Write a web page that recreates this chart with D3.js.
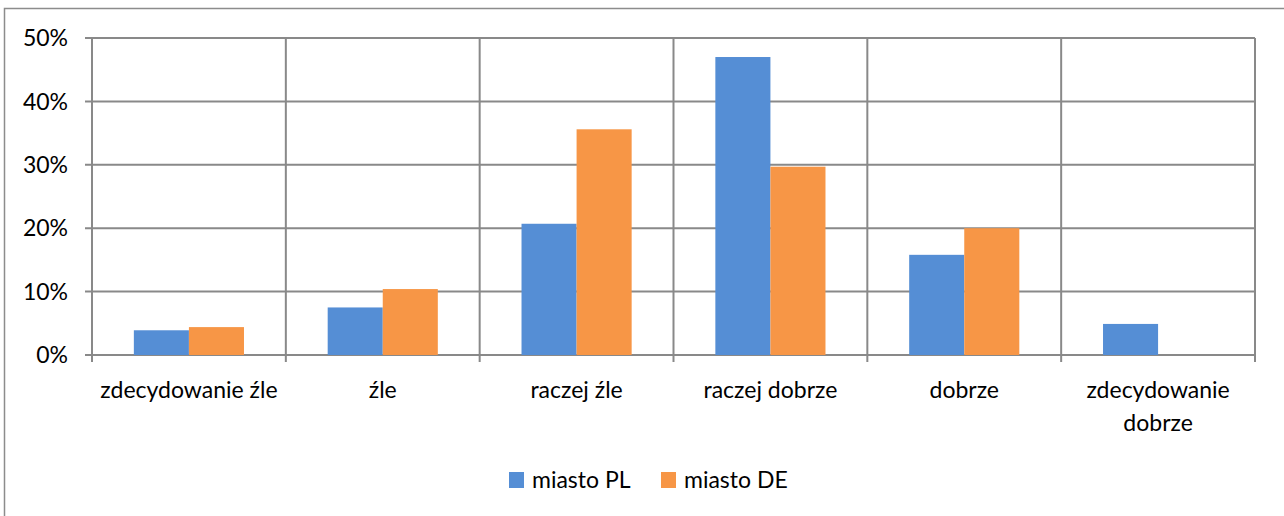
<!DOCTYPE html>
<html>
<head>
<meta charset="utf-8">
<script src="https://cdn.jsdelivr.net/npm/d3@7"></script>
<style>
  body { margin: 0; background: #fff; }
  text { font-family: Lato, "Open Sans", sans-serif; fill: #000; }
</style>
</head>
<body>
<div id="chart"></div>
<script>
var categories = ['zdecydowanie źle', 'źle', 'raczej źle', 'raczej dobrze', 'dobrze', 'zdecydowanie dobrze']
var seriesNames = ['miasto PL', 'miasto DE']
var miastoPL = [3.9, 7.5, 20.7, 47.0, 15.8, 4.9]
var miastoDE = [4.4, 10.4, 35.6, 29.7, 20.0, 0]
var yTicks = [0, 10, 20, 30, 40, 50]
var colors = ['#558ED5', '#F79646']

var W = 1284, H = 516
var margin = {top: 38, right: 29, bottom: 161, left: 92},
    width = W - margin.left - margin.right,
    height = H - margin.top - margin.bottom
var fontSize = '23px'

var svg = d3.select('#chart').append('svg')
    .attr('width', W)
    .attr('height', H)

// outer chart border (cut by the picture on right and bottom)
svg.append('rect')
    .attr('x', 4.5).attr('y', 8.5)
    .attr('width', 1400).attr('height', 600)
    .attr('fill', 'none')
    .attr('stroke', '#8c8c8c')
    .attr('stroke-width', 1.5)

var g = svg.append('g')
    .attr('transform', 'translate(' + margin.left + ',' + margin.top + ')')

var x0 = d3.scaleBand()
    .domain(categories)
    .range([0, width])
    .padding(0)

var x1 = d3.scaleBand()
    .domain(seriesNames)
    .range([0, x0.bandwidth()])
    .paddingInner(0)
    .paddingOuter(0.76)

var y = d3.scaleLinear()
    .domain([0, 50])
    .range([height, 0])

var gridColor = '#898989'

// horizontal gridlines with tick stubs
g.append('g')
    .selectAll('line')
    .data(yTicks)
    .enter().append('line')
      .attr('x1', -7).attr('x2', width)
      .attr('y1', function(d) { return y(d) }).attr('y2', function(d) { return y(d) })
      .attr('stroke', gridColor).attr('stroke-width', 2)

// vertical gridlines at category boundaries
var bounds = categories.map(function(c) { return x0(c) }).concat([width])
g.append('g')
    .selectAll('line')
    .data(bounds)
    .enter().append('line')
      .attr('x1', function(d) { return d }).attr('x2', function(d) { return d })
      .attr('y1', 0).attr('y2', height + 7)
      .attr('stroke', gridColor).attr('stroke-width', 2)

// y labels
g.append('g')
    .selectAll('text')
    .data(yTicks)
    .enter().append('text')
      .attr('x', -24)
      .attr('y', function(d) { return y(d) })
      .attr('dy', '0.36em')
      .attr('text-anchor', 'end')
      .style('font-size', fontSize)
      .text(function(d) { return d + '%' })

// bars
var rows = categories.map(function(c, i) {
  return {cat: c, values: [miastoPL[i], miastoDE[i]]}
})
var groups = g.append('g')
    .selectAll('g')
    .data(rows)
    .enter().append('g')
      .attr('transform', function(d) { return 'translate(' + x0(d.cat) + ',0)' })
groups.selectAll('rect')
    .data(function(d) { return d.values.map(function(v, j) { return {name: seriesNames[j], v: v, j: j} }) })
    .enter().append('rect')
      .attr('x', function(d) { return x1(d.name) })
      .attr('y', function(d) { return y(d.v) })
      .attr('width', x1.bandwidth())
      .attr('height', function(d) { return height - y(d.v) })
      .attr('fill', function(d) { return colors[d.j] })

// x labels, wrapped to band width
var xl = g.append('g')
    .selectAll('text')
    .data(categories)
    .enter().append('text')
      .attr('x', function(d) { return x0(d) + x0.bandwidth() / 2 })
      .attr('y', height + 43)
      .attr('text-anchor', 'middle')
      .style('font-size', fontSize)
      .text(function(d) { return d })
xl.each(function(d) {
  var t = d3.select(this)
  if (this.getComputedTextLength() > x0.bandwidth() + 2) {
    var words = d.split(' ')
    var cx = t.attr('x')
    t.text(null)
    words.forEach(function(w, i) {
      t.append('tspan').attr('x', cx).attr('dy', i === 0 ? 0 : 33).text(w)
    })
  }
})

// legend
var legend = svg.append('g').attr('transform', 'translate(509,472)')
var lx = [0, 152]
seriesNames.forEach(function(s, i) {
  var lg = legend.append('g').attr('transform', 'translate(' + lx[i] + ',0)')
  lg.append('rect').attr('width', 15).attr('height', 16).attr('fill', colors[i])
  lg.append('text').attr('x', 23).attr('y', 16).style('font-size', fontSize).text(s)
})
</script>
</body>
</html>
